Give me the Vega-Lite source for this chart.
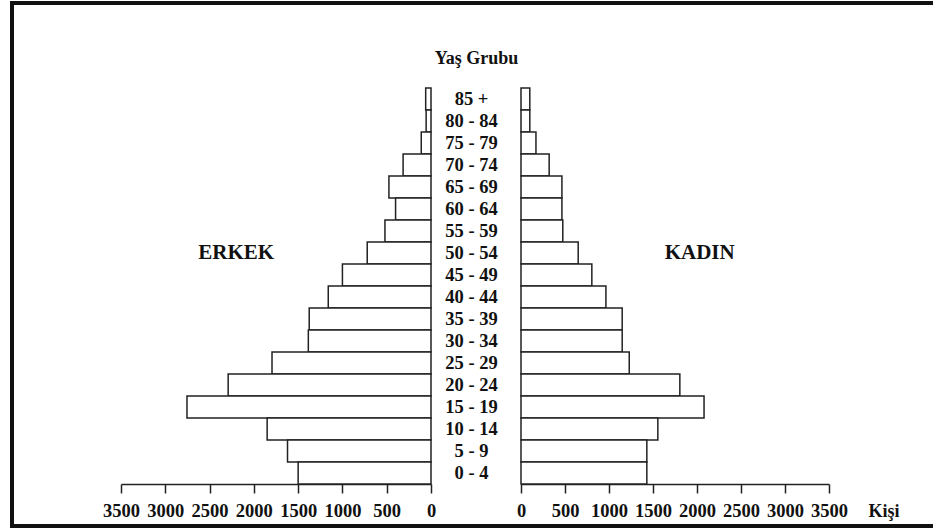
{
  "$schema": "https://vega.github.io/schema/vega-lite/v6.json",
  "autosize": "none",
  "width": 925,
  "height": 523,
  "padding": {"left": 12, "top": 3, "right": -4, "bottom": 3},
  "background": "white",
  "config": {
    "view": {"stroke": "#111", "strokeWidth": 4},
    "font": "Liberation Serif",
    "axis": {
      "labelFont": "Liberation Serif",
      "labelFontWeight": "bold",
      "labelFontSize": 18,
      "labelColor": "#111",
      "titleFont": "Liberation Serif",
      "titleFontWeight": "bold",
      "titleFontSize": 18,
      "titleColor": "#111",
      "grid": false
    }
  },
  "data": {
    "values": [
      {"age": "85 +", "male": 60, "female": 100},
      {"age": "80 - 84", "male": 55, "female": 100},
      {"age": "75 - 79", "male": 110, "female": 170},
      {"age": "70 - 74", "male": 315, "female": 320},
      {"age": "65 - 69", "male": 475, "female": 465},
      {"age": "60 - 64", "male": 400, "female": 465},
      {"age": "55 - 59", "male": 520, "female": 475},
      {"age": "50 - 54", "male": 720, "female": 650},
      {"age": "45 - 49", "male": 1000, "female": 805},
      {"age": "40 - 44", "male": 1160, "female": 965},
      {"age": "35 - 39", "male": 1375, "female": 1150},
      {"age": "30 - 34", "male": 1385, "female": 1150},
      {"age": "25 - 29", "male": 1795, "female": 1230},
      {"age": "20 - 24", "male": 2290, "female": 1805},
      {"age": "15 - 19", "male": 2755, "female": 2080},
      {"age": "10 - 14", "male": 1850, "female": 1555},
      {"age": "5 - 9", "male": 1620, "female": 1430},
      {"age": "0 - 4", "male": 1500, "female": 1430}
    ]
  },
  "layer": [
    {
      "layer": [
        {
          "mark": {"type": "bar", "fill": "white", "stroke": "#222", "strokeWidth": 1.5},
          "encoding": {
            "y": {
              "field": "age", "type": "nominal",
              "scale": {
                "domain": ["85 +", "80 - 84", "75 - 79", "70 - 74", "65 - 69", "60 - 64", "55 - 59", "50 - 54", "45 - 49", "40 - 44", "35 - 39", "30 - 34", "25 - 29", "20 - 24", "15 - 19", "10 - 14", "5 - 9", "0 - 4"],
                "range": [85, 481], "paddingInner": 0, "paddingOuter": 0
              },
              "axis": {
                "orient": "left", "offset": -459, "domain": false, "ticks": false, "tickSize": 0,
                "labelAlign": "center", "labelPadding": 0, "labelBaseline": "middle", "labelFontSize": 18.5,
                "title": "Yaş Grubu", "titleAngle": 0, "titleX": 5, "titleY": 55,
                "titleAlign": "center", "titleBaseline": "middle", "titleFontSize": 18
              }
            },
            "x": {
              "field": "male", "type": "quantitative",
              "scale": {"domain": [0, 3500], "range": [419, 109], "nice": false},
              "axis": {
                "orient": "bottom", "offset": -42, "values": [0, 500, 1000, 1500, 2000, 2500, 3000, 3500], "format": "d",
                "tickSize": 9, "tickColor": "#222", "tickWidth": 1.5, "domainColor": "#222", "domainWidth": 1.5,
                "labelPadding": 8, "labelFontSize": 18.5, "labelFlush": false, "labelOverlap": false, "title": null
              }
            }
          }
        },
        {
          "data": {"values": [{}]},
          "mark": {"type": "text", "text": "ERKEK", "font": "Liberation Serif", "fontWeight": "bold", "fontSize": 21, "color": "#111", "align": "center", "baseline": "middle"},
          "encoding": {
            "x": {"datum": 2200, "type": "quantitative"},
            "y": {"datum": "50 - 54", "type": "nominal"}
          }
        }
      ]
    },
    {
      "layer": [
        {
          "mark": {"type": "bar", "fill": "white", "stroke": "#222", "strokeWidth": 1.5},
          "encoding": {
            "y": {"field": "age", "type": "nominal"},
            "x": {
              "field": "female", "type": "quantitative",
              "scale": {"domain": [0, 3500], "range": [509, 817], "nice": false},
              "axis": {
                "orient": "bottom", "offset": -42, "values": [0, 500, 1000, 1500, 2000, 2500, 3000, 3500], "format": "d",
                "tickSize": 9, "tickColor": "#222", "tickWidth": 1.5, "domainColor": "#222", "domainWidth": 1.5,
                "labelPadding": 8, "labelFontSize": 18.5, "labelFlush": false, "labelOverlap": false,
                "title": "Kişi", "titleX": 856, "titleY": 27, "titleAlign": "left", "titleBaseline": "middle", "titleAnchor": "start"
              }
            }
          }
        },
        {
          "data": {"values": [{}]},
          "mark": {"type": "text", "text": "KADIN", "font": "Liberation Serif", "fontWeight": "bold", "fontSize": 21, "color": "#111", "align": "center", "baseline": "middle"},
          "encoding": {
            "x": {"datum": 2030, "type": "quantitative"},
            "y": {"datum": "50 - 54", "type": "nominal"}
          }
        }
      ]
    }
  ],
  "resolve": {"scale": {"x": "independent"}, "axis": {"x": "independent"}}
}
